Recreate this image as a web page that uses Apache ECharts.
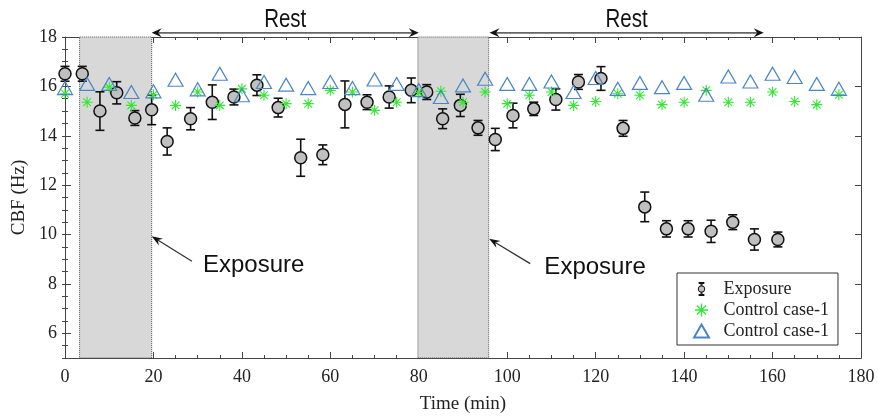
<!DOCTYPE html>
<html><head><meta charset="utf-8">
<script src="https://cdn.jsdelivr.net/npm/echarts@6/dist/echarts.min.js"></script>
<style>html,body{margin:0;padding:0;background:#fff}#c{width:878px;height:420px}</style>
</head><body><div id="c"></div>
<script>
// ---- data ----
const expTime = [0, 3.9, 7.9, 11.7, 15.8, 19.6, 23.1, 28.4, 33.3, 38.2, 43.4, 48.2, 53.3, 58.3, 63.3, 68.3, 73.3, 78.3, 81.8, 85.4, 89.4, 93.4, 97.3, 101.3, 106, 111, 116.1, 121.2, 126.2, 131.1, 136, 140.9, 146.1, 151, 155.9, 161.2];
const expCBF = [16.51, 16.51, 15.0, 15.74, 14.72, 15.05, 13.77, 14.69, 15.36, 15.57, 16.05, 15.14, 13.11, 13.23, 15.27, 15.36, 15.57, 15.84, 15.77, 14.69, 15.23, 14.32, 13.85, 14.82, 15.09, 15.47, 16.18, 16.32, 14.3, 11.12, 10.23, 10.23, 10.13, 10.5, 9.8, 9.8];
const expErr = [0.3, 0.3, 0.78, 0.45, 0.3, 0.6, 0.55, 0.45, 0.7, 0.32, 0.42, 0.38, 0.75, 0.4, 0.95, 0.3, 0.45, 0.5, 0.3, 0.4, 0.45, 0.3, 0.45, 0.5, 0.27, 0.43, 0.3, 0.48, 0.32, 0.6, 0.33, 0.33, 0.45, 0.3, 0.43, 0.3];
const ctrlTime = [0, 5, 10, 15, 20, 25, 30, 35, 40, 45, 50, 55, 60, 65, 70, 75, 80, 85, 90, 95, 100, 105, 110, 115, 120, 125, 130, 135, 140, 145, 150, 155, 160, 165, 170, 175];
const ctrlA = [15.7, 15.36, 15.97, 15.23, 15.66, 15.23, 15.77, 15.23, 15.9, 15.64, 15.3, 15.3, 15.84, 15.77, 15.03, 15.36, 15.75, 15.8, 15.36, 15.77, 15.3, 15.64, 15.77, 15.23, 15.39, 15.7, 15.64, 15.26, 15.36, 15.84, 15.36, 15.36, 15.77, 15.39, 15.26, 15.66];
const ctrlB = [15.93, 16.1, 16.1, 15.77, 15.8, 16.27, 15.88, 16.51, 15.64, 16.18, 16.07, 15.93, 16.18, 15.93, 16.28, 16.1, 15.85, 15.57, 16.04, 16.31, 16.1, 16.1, 16.2, 15.77, 16.34, 15.9, 16.14, 15.97, 16.14, 15.66, 16.4, 16.2, 16.51, 16.38, 16.1, 15.9];
const yTickLabels = [6, 8, 10, 12, 14, 16, 18];
const exposureWindows = [[3.3, 19.6], [79.8, 95.8]];
const restWindows = [[19.6, 80], [96, 158]];
const seriesNames = ['Exposure', 'Control case-1', 'Control case-1 '];

// ---- styles ----
const SERIF = "'Liberation Serif','Times New Roman',serif";
const SANS = "'Liberation Sans','Arial',sans-serif";
const AX = '#444';
const STAR = 'path://M0 9L20 9L20 11L0 11Z M9 0L11 0L11 20L9 20Z M2.3 3.7L3.7 2.3L17.7 16.3L16.3 17.7Z M2.3 16.3L16.3 2.3L17.7 3.7L3.7 17.7Z';
const ERRICON = 'path://M4 0H12V1.5H4Z M7.3 1.5H8.7V5H7.3Z M3 10A5 5 0 1 0 13 10A5 5 0 1 0 3 10Z M7.3 15H8.7V18.5H7.3Z M4 18.5H12V20H4Z';
const TRI = 'path://M7.5 0L15 13L0 13Z';

const xBase = {type:'value', min:0, max:180, interval:20, splitLine:{show:false},
  axisLine:{show:true, onZero:false, lineStyle:{color:AX, width:1}},
  axisTick:{show:true, inside:true, length:6, lineStyle:{color:AX}},
  minorTick:{show:true, splitNumber:4, length:3, lineStyle:{color:AX}}};
const yMajor = {type:'value', min:5, max:18, splitLine:{show:false},
  axisLine:{show:true, onZero:false, lineStyle:{color:AX, width:1}},
  axisTick:{show:true, inside:true, length:6, customValues:yTickLabels, lineStyle:{color:AX}}};
const yMinor = {type:'value', min:5, max:18, interval:0.5, splitLine:{show:false},
  axisLine:{show:false}, axisLabel:{show:false},
  axisTick:{show:true, inside:true, length:3, lineStyle:{color:AX}}};

const option = {
  animation:false,
  backgroundColor:'#fff',
  grid:{left:65, right:17, top:37, bottom:62},
  xAxis:[
    Object.assign({}, xBase, {position:'bottom', name:'Time (min)', nameLocation:'middle', nameGap:37,
      nameTextStyle:{fontFamily:SERIF, fontSize:19, color:'#222'},
      axisLabel:{fontFamily:SERIF, fontSize:18, color:'#222', margin:10}}),
    Object.assign({}, xBase, {position:'top', axisLabel:{show:false}})
  ],
  yAxis:[
    Object.assign({}, yMajor, {position:'left', name:'CBF (Hz)', nameLocation:'middle', nameGap:23,
      nameTextStyle:{fontFamily:SERIF, fontSize:19, color:'#222'},
      axisLabel:{fontFamily:SERIF, fontSize:18, color:'#222', margin:8, customValues:yTickLabels}}),
    Object.assign({}, yMajor, {position:'right', axisLabel:{show:false}}),
    Object.assign({}, yMinor, {position:'left'}),
    Object.assign({}, yMinor, {position:'right'})
  ],
  legend:{
    orient:'vertical', left:677, top:273,
    backgroundColor:'#fff', borderColor:'#333', borderWidth:1,
    padding:[6, 9, 4, 16], itemGap:1, itemWidth:34, itemHeight:13,
    textStyle:{fontFamily:SERIF, fontSize:18, color:'#222', lineHeight:20},
    formatter: n => n.trim(),
    data:[
      {name:seriesNames[0], icon:ERRICON, itemStyle:{color:'#c0c0c0', borderColor:'#111', borderWidth:1}},
      {name:seriesNames[1], icon:STAR},
      {name:seriesNames[2], icon:TRI}
    ]
  },
  series:[
    {
      name:'shade', type:'scatter', data:[], silent:true, z:1,
      markArea:{silent:true,
        itemStyle:{color:'#d8d8d8', borderColor:'#555', borderWidth:1, borderType:'dotted'},
        data: exposureWindows.map(w => [{xAxis:w[0]}, {xAxis:w[1]}])}
    },
    {
      name:'Exposure error', type:'custom', z:3,
      data: expTime.map((t, i) => [t, expCBF[i], expErr[i]]),
      encode:{x:0, y:1},
      renderItem:(params, api) => {
        const x = api.value(0), y = api.value(1), e = api.value(2);
        const top = api.coord([x, y + e]), bot = api.coord([x, y - e]);
        const w = 4.5, st = {stroke:'#111', lineWidth:1.6};
        return {type:'group', children:[
          {type:'line', shape:{x1:top[0], y1:top[1], x2:bot[0], y2:bot[1]}, style:st},
          {type:'line', shape:{x1:top[0]-w, y1:top[1], x2:top[0]+w, y2:top[1]}, style:st},
          {type:'line', shape:{x1:bot[0]-w, y1:bot[1], x2:bot[0]+w, y2:bot[1]}, style:st}
        ]};
      }
    },
    {
      name:seriesNames[0], type:'scatter', z:4, symbol:'circle', symbolSize:12,
      itemStyle:{color:'#c0c0c0', borderColor:'#111', borderWidth:1.5, opacity:1},
      data: expTime.map((t, i) => [t, expCBF[i]])
    },
    {
      name:seriesNames[1], type:'scatter', z:5, symbol:STAR, symbolSize:11,
      itemStyle:{color:'#33e833', opacity:1},
      data: ctrlTime.map((t, i) => [t, ctrlA[i]])
    },
    {
      name:seriesNames[2], type:'scatter', z:6, symbol:TRI, symbolSize:[15, 13],
      itemStyle:{color:'rgba(255,255,255,0)', borderColor:'#4a86c5', borderWidth:1.2, opacity:1},
      data: ctrlTime.map((t, i) => [t, ctrlB[i]])
    }
  ]
};

const chart = echarts.init(document.getElementById('c'));
chart.setOption(option);

// ---- annotations (placed through the chart's own scales) ----
const px = p => chart.convertToPixel({seriesIndex:2}, p);
function head(tip, from, len, half, color){
  const dx = tip[0]-from[0], dy = tip[1]-from[1], d = Math.hypot(dx, dy);
  const ux = dx/d, uy = dy/d, nx = -uy, ny = ux;
  const bx = tip[0]-ux*len, by = tip[1]-uy*len;
  const notch = [tip[0]-ux*len*0.65, tip[1]-uy*len*0.65];
  return {poly:{type:'polygon', z:100, shape:{points:[tip, [bx+nx*half, by+ny*half], notch, [bx-nx*half, by-ny*half]]}, style:{fill:color}}, notch};
}
const gfx = [];
restWindows.forEach(w => {
  const a = px([w[0], 18.17]), b = px([w[1], 18.17]);
  const h1 = head(a, b, 10, 4.5, '#111'), h2 = head(b, a, 10, 4.5, '#111');
  gfx.push({type:'line', z:99, shape:{x1:h1.notch[0], y1:a[1], x2:h2.notch[0], y2:b[1]}, style:{stroke:'#666', lineWidth:1.8}});
  gfx.push(h1.poly, h2.poly);
  const c = px([(w[0]+w[1])/2, 18.68]);
  gfx.push({type:'text', z:100, x:c[0], y:c[1], scaleX:0.82,
    style:{text:'Rest', x:0, y:0, align:'center', verticalAlign:'middle', font:'25px ' + SANS, fill:'#111'}});
});
const exposureNotes = [
  {tip:[19.6, 9.93], tail:[28.7, 8.92], label:[31.2, 8.75]},
  {tip:[95.9, 9.83], tail:[105.2, 8.82], label:[108.4, 8.68]}
];
exposureNotes.forEach(n => {
  const tip = px(n.tip), tail = px(n.tail);
  const h = head(tip, tail, 11, 4, '#111');
  gfx.push({type:'line', z:99, shape:{x1:tail[0], y1:tail[1], x2:h.notch[0], y2:h.notch[1]}, style:{stroke:'#333', lineWidth:1.3}});
  gfx.push(h.poly);
  const l = px(n.label);
  gfx.push({type:'text', z:100, style:{text:'Exposure', x:l[0], y:l[1], align:'left', verticalAlign:'middle',
    font:'24px ' + SANS, fill:'#111'}});
});
chart.setOption({graphic:gfx});
</script></body></html>
